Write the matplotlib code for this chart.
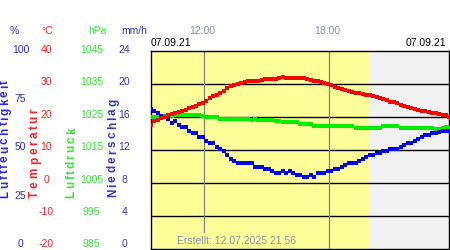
import numpy as np
import matplotlib
matplotlib.use("Agg")
import matplotlib.pyplot as plt
from matplotlib.font_manager import findfont, FontProperties
from matplotlib.ft2font import FT2Font

# ---------------- data ----------------
start_hour = 9 + 26 / 60          # first sample 09:26
step_hour = 10 / 60               # 10-minute samples
x_min, x_max = 9.427, 23.73
sunset_hour = 19.95

temperature = [17.6, 18.6, 19.0, 19.5, 19.9, 20.4, 20.8, 21.1, 21.4, 21.8, 22.1, 22.5, 22.9, 23.3, 23.8,
               24.3, 24.9, 25.6, 26.2, 26.7, 27.3, 27.9, 28.6, 29.2, 29.6, 29.8, 30.3, 30.5, 30.7, 30.7,
               30.8, 30.9, 31.1, 31.3, 31.4, 31.5, 31.5, 31.6, 31.9, 31.6, 31.8, 31.8, 31.8, 31.8, 31.7,
               31.4, 31.1, 30.9, 30.8, 30.5, 30.2, 29.9, 29.7, 29.0, 28.6, 28.3, 28.0, 27.8, 27.5, 27.3,
               27.2, 26.9, 26.7, 26.5, 26.3, 26.0, 25.6, 25.3, 25.0, 24.6, 24.4, 24.1, 23.7, 23.3, 23.0,
               22.7, 22.4, 22.1, 21.8, 21.6, 21.4, 21.2, 21.0, 20.9, 20.6, 20.4, 19.9]

pressure = [1025.0, 1025.0, 1025.0, 1025.0, 1025.1, 1025.3, 1025.3, 1025.5, 1025.6, 1025.6, 1025.5, 1025.5,
            1025.5, 1025.5, 1025.5, 1025.3, 1025.0, 1025.0, 1025.0, 1024.9, 1024.4, 1024.4, 1024.4, 1024.3,
            1024.2, 1024.2, 1024.2, 1024.2, 1024.2, 1023.9, 1024.2, 1024.0, 1023.9, 1023.9, 1023.9, 1023.9,
            1023.6, 1023.6, 1023.3, 1023.3, 1023.3, 1023.3, 1023.3, 1022.9, 1022.7, 1022.7, 1022.7, 1022.3,
            1022.3, 1022.3, 1022.3, 1022.3, 1022.3, 1022.3, 1022.1, 1022.1, 1022.1, 1022.1, 1022.1, 1021.7,
            1021.7, 1021.7, 1021.7, 1021.7, 1021.7, 1021.7, 1021.7, 1022.1, 1022.1, 1022.1, 1022.1, 1022.1,
            1021.7, 1021.7, 1021.7, 1021.7, 1021.7, 1021.7, 1021.7, 1021.7, 1021.7, 1021.7, 1021.4, 1021.4,
            1021.7, 1021.9, 1021.5]

humidity = [70.7, 69.7, 68.7, 67.0, 66.5, 65.7, 63.7, 64.7, 62.7, 61.7, 61.7, 59.6, 58.6, 58.6, 56.6,
            56.6, 54.6, 53.6, 53.6, 51.6, 50.6, 49.6, 47.6, 45.6, 44.6, 43.6, 43.6, 43.6, 43.6, 43.6,
            41.6, 41.6, 41.6, 40.6, 40.6, 39.5, 38.5, 38.5, 39.5, 38.5, 39.5, 38.5, 37.5, 37.5, 36.5,
            36.5, 37.5, 36.5, 38.5, 38.5, 38.5, 39.5, 39.5, 40.6, 40.6, 41.6, 42.6, 43.6, 43.6, 43.6,
            44.6, 45.6, 46.6, 47.6, 47.6, 48.6, 48.6, 49.6, 49.6, 50.6, 50.6, 50.6, 51.6, 52.6, 53.6,
            53.6, 54.6, 55.6, 56.6, 57.6, 57.6, 58.6, 58.6, 59.1, 59.6, 59.6, 59.6]

hum_ticks = [0, 25, 50, 75, 100]
temp_ticks = [-20, -10, 0, 10, 20, 30, 40]
pres_ticks = [985, 995, 1005, 1015, 1025, 1035, 1045]
rain_ticks = [0, 4, 8, 12, 16, 20, 24]
time_marks = [12, 18]
time_labels = ["12:00", "18:00"]
date_label = "07.09.21"
created_label = "Erstellt: 12.07.2025 21:56"

# ---------------- figure ----------------
W, H = 450, 250
fig = plt.figure(figsize=(W / 100, H / 100), dpi=100)
def fx(x): return x / W
def fy(y): return 1 - y / H

L, R, T, B = 150.7, 448.7, 50.5, 249.3
rect = [fx(L), fy(B), (R - L) / W, (B - T) / H]
ax = fig.add_axes(rect)
ax.set_xlim(x_min, x_max)
ax.set_ylim(temp_ticks[0], temp_ticks[-1])
ax.set_xticks([]); ax.set_yticks([])
ax.axvspan(x_min, sunset_hour, color="#ffff99", lw=0, zorder=0)
ax.axvspan(sunset_hour, x_max, color="#f2f2f2", lw=0, zorder=0)
for v in temp_ticks[1:-1]:
    ax.axhline(v, color="black", lw=1.0, zorder=1)
ax.axvline(time_marks[0], ymin=(B - 232) / (B - T), ymax=1, color="#808080", lw=0.9, zorder=1)
ax.axvline(time_marks[1], color="#808080", lw=0.9, zorder=1)
for s in ax.spines.values():
    s.set_color("black"); s.set_linewidth(1.0); s.set_zorder(5)

def twin(lo, hi):
    a = ax.twinx()
    a.set_ylim(lo, hi)
    a.set_xlim(x_min, x_max)
    a.axis("off")
    return a

mk = dict(ls="none", marker="s", ms=2.3, mew=0, clip_on=True, antialiased=False)
ap = twin(pres_ticks[0], pres_ticks[-1])
ap.plot(start_hour + step_hour * np.arange(len(pressure)), pressure, color="#00ee00", **mk)
ah = twin(hum_ticks[0], hum_ticks[-1])
ah.plot(start_hour + step_hour * np.arange(len(humidity)), humidity, color="#0000ff", **mk)
at = twin(temp_ticks[0], temp_ticks[-1])
at.plot(start_hour + step_hour * np.arange(len(temperature)), temperature, color="#ff0000", **mk)

# ---------------- texts ----------------
font = "Liberation Sans"
fs = 7.5
c_hum, c_temp, c_pres, c_rain = "#2a2ae6", "#ff2020", "#33e633", "#3535d0"
c_time = "#8690aa"

def label_y(frac):
    return 50 + (1 - frac) * 194.3

for txt, x, c in [("%", 14, c_hum), ("°C", 47, c_temp), ("hPa", 97, c_pres), ("mm/h", 134, c_rain)]:
    fig.text(fx(x), fy(30.5), txt, color=c, ha="center", va="center", fontsize=fs, family=font)

def column(ticks, x, c):
    lo, hi = ticks[0], ticks[-1]
    for v in ticks:
        fig.text(fx(x), fy(label_y((v - lo) / (hi - lo))), str(v), color=c,
                 ha="center", va="center", fontsize=fs, family=font)

column(hum_ticks, 20.5, c_hum)
column(temp_ticks, 46.5, c_temp)
column(pres_ticks, 91.5, c_pres)
column(rain_ticks, 124.5, c_rain)

# vertical axis titles, letter by letter (stretched look)
tfp = FontProperties(family=font, weight="bold")
ft = FT2Font(findfont(tfp))
ft.set_size(100, 72)
def adv(ch):
    g = ft.load_char(ord(ch))
    return g.linearHoriAdvance / 65536.0

def vtitle(txt, xc, y_bottom, length, c):
    w = [adv(ch) for ch in txt]
    sc = length / sum(w)
    pos = y_bottom
    for ch, wi in zip(txt, w):
        yc = pos - wi * sc / 2
        fig.text(fx(xc), fy(yc), ch, color=c, rotation=90, ha="center", va="center",
                 fontsize=8.5, family=font, weight="bold")
        pos -= wi * sc

vtitle("Luftfeuchtigkeit", 5.0, 199, 120, c_hum)
vtitle("Temperatur", 34.7, 199, 91, c_temp)
vtitle("Luftdruck", 71.7, 199, 73, c_pres)
vtitle("Niederschlag", 113.0, 199, 102, c_rain)

# time labels
for h, lab in zip(time_marks, time_labels):
    xp = L + (h - x_min) / (x_max - x_min) * (R - L) - 2.5
    fig.text(fx(xp), fy(30.5), lab, color=c_time, ha="center", va="center", fontsize=fs, family=font)
fig.text(fx(151), fy(43.5), date_label, color="black", ha="left", va="center", fontsize=fs, family=font)
fig.text(fx(446.5), fy(43.5), date_label, color="black", ha="right", va="center", fontsize=fs, family=font)
fig.text(fx(236), fy(241.5), created_label, color=c_time, ha="center", va="center", fontsize=fs, family=font)

fig.savefig("out.png", dpi=100)
